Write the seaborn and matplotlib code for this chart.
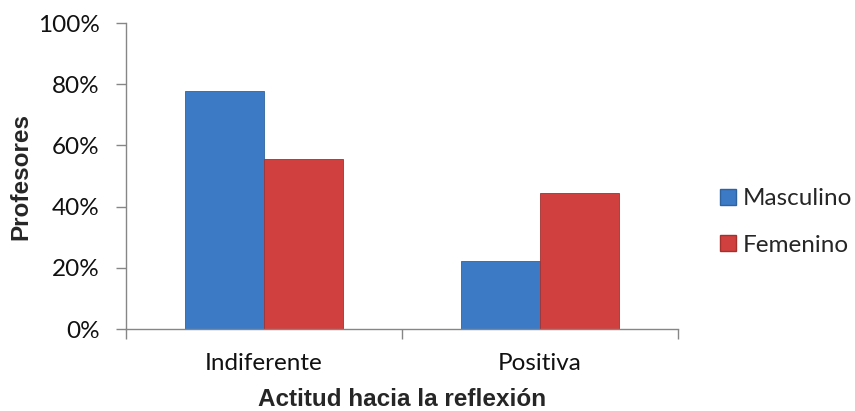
import pandas as pd
import numpy as np
import matplotlib.pyplot as plt
import seaborn as sns
from matplotlib.lines import Line2D
from matplotlib.ticker import PercentFormatter

sns.set_style('white')
plt.rcParams['font.family'] = ['Lato', 'DejaVu Sans']

# =========================
# Data
# =========================
categories = ['Indiferente', 'Positiva']
groups = ['Masculino', 'Femenino']
masculino = [77.8, 22.2]
femenino = [55.6, 44.4]

df = pd.DataFrame({
    'actitud': categories * 2,
    'sexo': [groups[0]] * 2 + [groups[1]] * 2,
    'valor': masculino + femenino
})

colors = {'Masculino': '#3C7AC6', 'Femenino': '#D0403E'}
edges = {'Masculino': '#2F639F', 'Femenino': '#A5312F'}

# =========================
# Plot
# =========================
fig = plt.figure(figsize=(8.55, 4.11), dpi=100)
ax = fig.add_axes([0.1474, 0.1995, 0.6456, 0.7445])

sns.barplot(
    data=df, x='actitud', y='valor', hue='sexo',
    palette=colors, width=0.573, ax=ax, legend=False,
    saturation=1
)

for cont, g in zip(ax.containers, groups):
    for bar in cont:
        bar.set_edgecolor(edges[g])
        bar.set_linewidth(0.6)

ax.set_ylim(0, 100)
ax.set_xlim(-0.5, 1.5)
ax.set_yticks(np.arange(0, 101, 20))
ax.yaxis.set_major_formatter(PercentFormatter(decimals=0))
ax.set_xticks([-0.5, 0.5, 1.5])
ax.set_xticklabels(['', '', ''])
ax.set_xticks([0, 1], minor=True)
ax.set_xticklabels(categories, minor=True)
ax.tick_params(axis='x', which='minor', length=0, pad=17, labelsize=17.5, labelcolor='#111111')
ax.tick_params(axis='x', which='major', length=7, width=1, color='#868686', direction='out')
ax.tick_params(axis='y', length=7, width=1, color='#868686', direction='out',
               labelsize=17.5, labelcolor='#111111', pad=12)
ax.tick_params(bottom=True, left=True)

for side in ['top', 'right']:
    ax.spines[side].set_visible(False)
for side in ['left', 'bottom']:
    ax.spines[side].set_color('#868686')
    ax.spines[side].set_linewidth(1)

ax.set_xlabel('Actitud hacia la reflexión', fontsize=17.5, fontweight='bold',
              family=['Liberation Sans', 'DejaVu Sans'], labelpad=10)
ax.set_ylabel('Profesores', fontsize=17.5, fontweight='bold',
              family=['Liberation Sans', 'DejaVu Sans'], labelpad=4)

handles = [
    Line2D([], [], marker='s', linestyle='', markersize=11.5,
           markerfacecolor=colors[g], markeredgecolor=edges[g], label=g)
    for g in groups
]
fig.legend(handles=handles, loc='center left', bbox_to_anchor=(0.842, 0.46),
           frameon=False, fontsize=17.5, handlelength=0.7, handletextpad=0.25,
           labelspacing=1.05, borderpad=0, borderaxespad=0)

plt.savefig('out.png', dpi=100)
